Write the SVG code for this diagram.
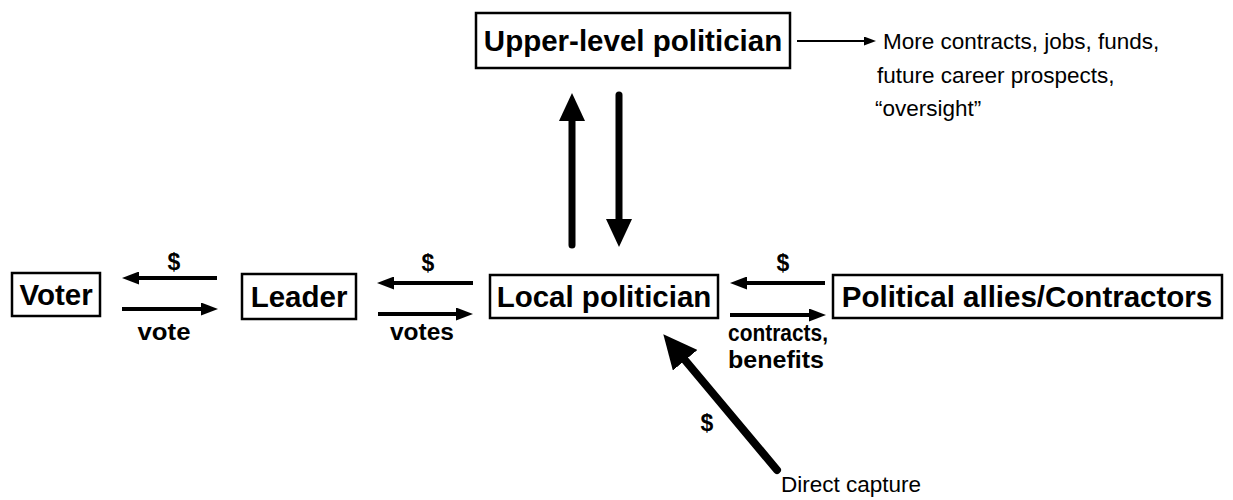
<svg xmlns="http://www.w3.org/2000/svg" width="1233" height="500" viewBox="0 0 1233 500">
<style>
.box{fill:#fff;stroke:#000;stroke-width:2.5}
.bt{font-family:"Liberation Sans",Arial,sans-serif;font-weight:bold;font-size:29.5px;text-anchor:middle;fill:#000}
.lb{font-family:"Liberation Sans",Arial,sans-serif;font-weight:bold;font-size:23px;fill:#000}
.rt{font-family:"Liberation Sans",Arial,sans-serif;font-size:22.5px;fill:#000}
.c{stroke:#000;fill:none}
</style>
<defs>
<marker id="h" markerUnits="userSpaceOnUse" markerWidth="17" markerHeight="13" viewBox="0 0 17 13" refX="1" refY="6.5" orient="auto"><path d="M0,0 L17,6.5 L0,13 z"/></marker>
<marker id="v" markerUnits="userSpaceOnUse" markerWidth="28" markerHeight="26" viewBox="0 0 28 26" refX="1" refY="13" orient="auto"><path d="M0,0 L28,13 L0,26 z"/></marker>
<marker id="d" markerUnits="userSpaceOnUse" markerWidth="34" markerHeight="32" viewBox="0 0 34 32" refX="1" refY="16" orient="auto"><path d="M0,0 L34,16 L0,32 z"/></marker>
<marker id="t" markerUnits="userSpaceOnUse" markerWidth="12" markerHeight="9" viewBox="0 0 12 9" refX="1" refY="4.5" orient="auto"><path d="M0,0 L12,4.5 L0,9 z"/></marker>
</defs>
<g id="connectors">
<path class="c" stroke-width="4" d="M217,278 L138,278" marker-end="url(#h)"/>
<path class="c" stroke-width="4" d="M122,309 L202,309" marker-end="url(#h)"/>
<path class="c" stroke-width="4" d="M473,283 L393,283" marker-end="url(#h)"/>
<path class="c" stroke-width="4" d="M378,314 L457,314" marker-end="url(#h)"/>
<path class="c" stroke-width="4" d="M825,283 L746,283" marker-end="url(#h)"/>
<path class="c" stroke-width="4" d="M730,315 L810,315" marker-end="url(#h)"/>
<path class="c" stroke-width="7" stroke-linecap="round" d="M572,245 L572,120" marker-end="url(#v)"/>
<path class="c" stroke-width="7" stroke-linecap="round" d="M619,95 L619,220" marker-end="url(#v)"/>
<path class="c" stroke-width="8" stroke-linecap="round" d="M777,470 L684.5,359.5" marker-end="url(#d)"/>
<path class="c" stroke-width="2" d="M797,41 L865,41" marker-end="url(#t)"/>
<text class="lb" x="174" y="270" text-anchor="middle">$</text>
<text class="lb" x="164" y="340" text-anchor="middle" textLength="53" lengthAdjust="spacingAndGlyphs">vote</text>
<text class="lb" x="422" y="340" text-anchor="middle" textLength="64" lengthAdjust="spacingAndGlyphs">votes</text>
<text class="lb" x="428" y="271" text-anchor="middle">$</text>
<text class="lb" x="783" y="271" text-anchor="middle">$</text>
<text class="lb" x="728" y="341" textLength="100" lengthAdjust="spacingAndGlyphs">contracts,</text>
<text class="lb" x="728" y="368" textLength="96" lengthAdjust="spacingAndGlyphs">benefits</text>
<text class="lb" x="707" y="431" text-anchor="middle">$</text>
</g>
<g id="voter"><rect class="box" x="12" y="273" width="88" height="43"/><text class="bt" x="56" y="305">Voter</text></g>
<g id="leader"><rect class="box" x="242" y="274" width="114" height="45"/><text class="bt" x="299" y="307">Leader</text></g>
<g id="local"><rect class="box" x="490" y="275" width="228" height="43"/><text class="bt" x="604" y="307">Local politician</text></g>
<g id="allies"><rect class="box" x="833" y="275" width="389" height="43"/><text class="bt" x="1027" y="307">Political allies/Contractors</text></g>
<g id="upper"><rect class="box" x="476" y="13" width="314" height="55"/><text class="bt" x="633" y="51">Upper-level politician</text></g>
<g id="outcomes">
<text class="rt" x="883" y="49">More contracts, jobs, funds,</text>
<text class="rt" x="877" y="83">future career prospects,</text>
<text class="rt" x="875" y="116">“oversight”</text>
</g>
<g id="direct"><text class="rt" x="781" y="492">Direct capture</text></g>
</svg>
